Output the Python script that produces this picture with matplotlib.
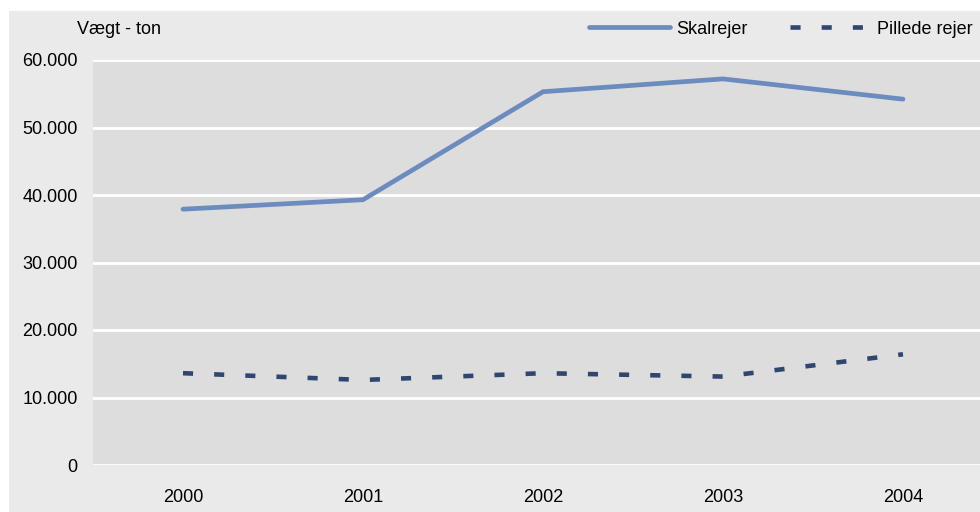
import numpy as np
import matplotlib.pyplot as plt
from matplotlib.patches import Rectangle
from matplotlib.ticker import FuncFormatter

plt.rcParams['font.family'] = ['Liberation Sans', 'DejaVu Sans']

years = ['2000', '2001', '2002', '2003', '2004']
skalrejer = [37900, 39300, 55300, 57200, 54200]
pillede = [13600, 12600, 13600, 13100, 16400]

SOLID_COL = '#6c8bbf'
DASH_COL = '#2f4670'
FS = 13

fig = plt.figure(figsize=(9.8, 5.12), dpi=100)
fig.patch.set_facecolor('white')
fig.patches.append(Rectangle((9 / 980, 0), 1, 501 / 512, transform=fig.transFigure,
                             facecolor='#eaeaea', edgecolor='none', zorder=-10))

ax = fig.add_axes([93 / 980, 47 / 512, 900 / 980, 405 / 512])
ax.set_facecolor('#dddddd')
for s in ax.spines.values():
    s.set_visible(False)

x = np.arange(len(years))
dash = (0, (2.2, 4.6))
ax.plot(x, skalrejer, color=SOLID_COL, lw=3.4, solid_capstyle='round',
        solid_joinstyle='miter', label='Skalrejer', zorder=3)
ax.plot(x, pillede, color=DASH_COL, lw=3.3, linestyle=dash, dash_capstyle='butt',
        label='Pillede rejer', zorder=3)

ax.set_xlim(-0.5, len(years) - 0.5)
ax.set_ylim(0, 60000)
ax.set_yticks(range(0, 60001, 10000))
ax.yaxis.set_major_formatter(FuncFormatter(lambda v, p: f'{int(v):,}'.replace(',', '.')))
ax.set_xticks(x)
ax.set_xticklabels(years)
ax.tick_params(length=0, labelsize=FS, colors='black')
ax.tick_params(axis='y', pad=11)
ax.tick_params(axis='x', pad=17)
ax.grid(axis='y', color='white', lw=2)
ax.set_axisbelow(True)

fig.text(77 / 980, 1 - 29 / 512, 'Vægt - ton', fontsize=FS, va='center', ha='left')

handles, labels = ax.get_legend_handles_labels()
fig.legend(handles, labels, loc='center right',
           bbox_to_anchor=(1.0, 1 - 29 / 512), ncol=2, frameon=False, fontsize=FS,
           handlelength=4.5, handletextpad=0.35, columnspacing=2.3, borderaxespad=0)

fig.savefig('out.png', dpi=100)
